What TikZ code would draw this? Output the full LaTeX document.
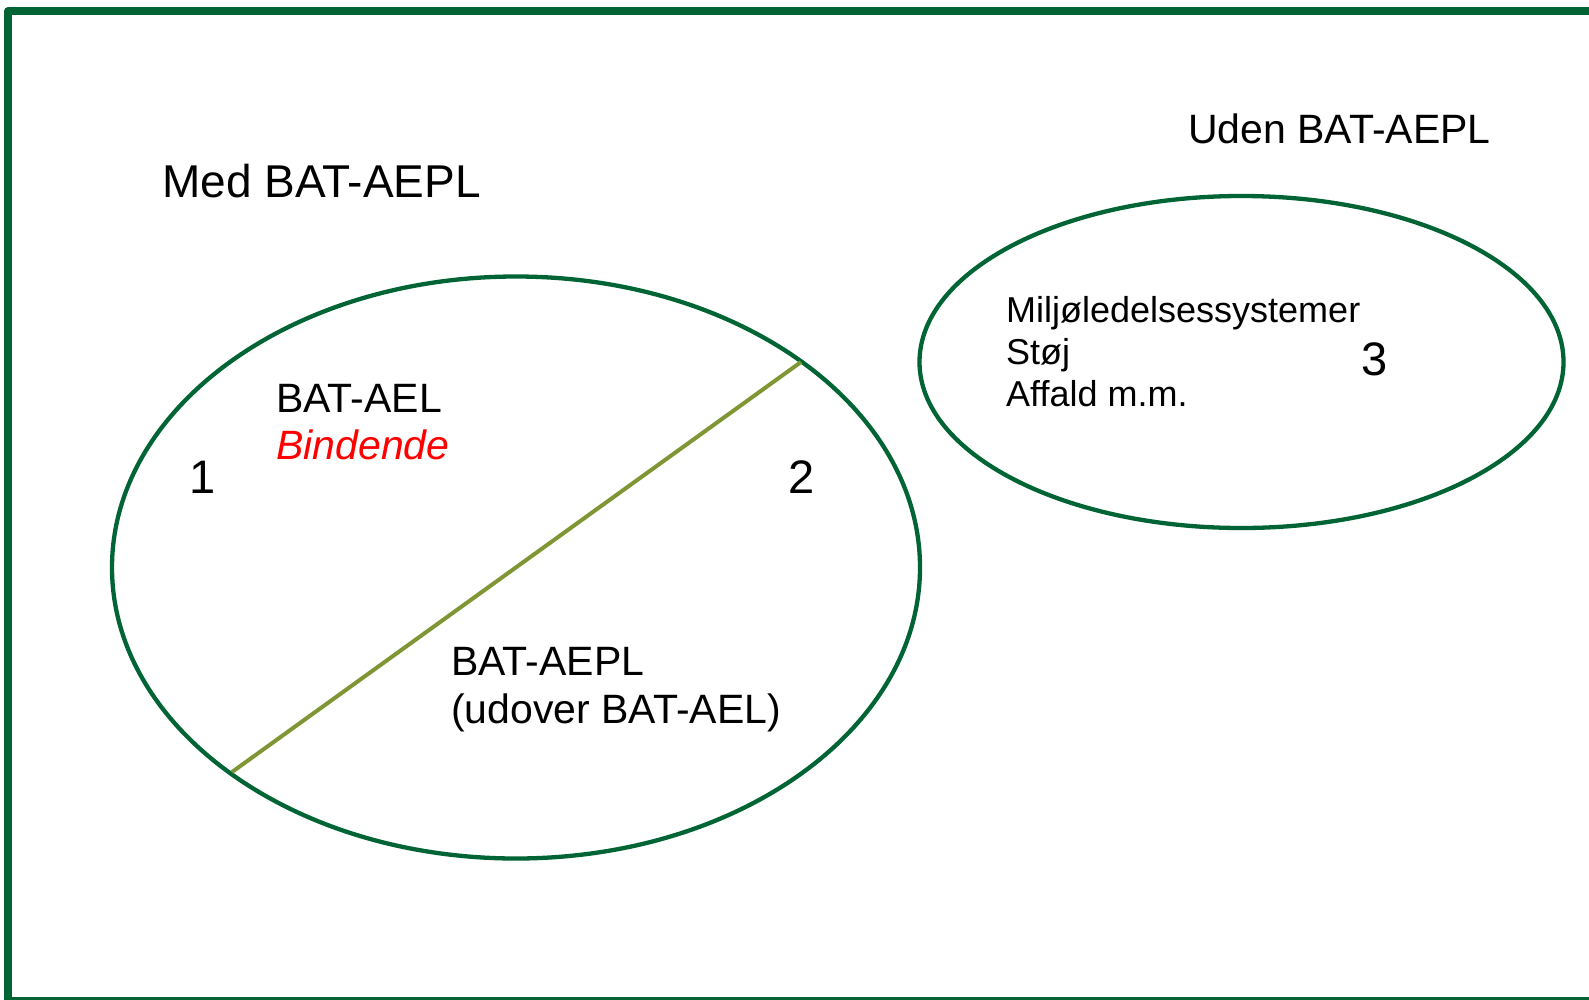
\documentclass[tikz,border=0pt]{standalone}
\usepackage{fontspec}
\setmainfont{Liberation Sans}
\usetikzlibrary{shapes.geometric}
\definecolor{framegreen}{RGB}{0,100,52}
\definecolor{ellgreen}{RGB}{0,100,52}
\definecolor{olive}{RGB}{128,150,52}
\definecolor{bindred}{RGB}{255,0,0}
\tikzset{
  frame/.style={draw=framegreen, line width=7.5pt, line join=round},
  setbox/.style={ellipse, draw=ellgreen, line width=4.3pt, inner sep=0pt},
  divider/.style={draw=olive, line width=4pt},
  lbl/.style={anchor=base west, inner sep=0pt, text=black},
  fs46/.style={font=\fontsize{46}{55}\selectfont},
  fs41/.style={font=\fontsize{41}{49}\selectfont},
  fsnum/.style={font=\fontsize{47}{56}\selectfont},
  fs36/.style={font=\fontsize{36}{42}\selectfont},
}
\begin{document}
\begin{tikzpicture}[x=1pt,y=-1pt]
\useasboundingbox (0,0) rectangle (1589,999);
\draw[frame] (8,11) rectangle (1605,1000.5);
\node[setbox, minimum width=808pt, minimum height=582pt] (e1) at (516,567.5) {};
\node[setbox, minimum width=644pt, minimum height=332pt] (e2) at (1241.5,362) {};
\coordinate (d1) at (232,772);
\coordinate (d2) at (801,362);
\draw[divider] (d1) -- (d2);
\node[lbl, fs46] (med) at (162,197) {Med BAT-AEPL};
\node[lbl, fs41] (uden) at (1188,143) {Uden BAT-AEPL};
\node[lbl, fs41] (ael) at (276,412) {BAT-AEL};
\node[lbl, fs41, text=bindred] (bind) at (276,459) {\itshape Bindende};
\node[lbl, fsnum] (n1) at (189,493) {1};
\node[lbl, fsnum] (n2) at (788,493) {2};
\node[lbl, fsnum] (n3) at (1361,375) {3};
\node[lbl, fs41] (aepl) at (451,675) {BAT-AEPL};
\node[lbl, fs41] (udover) at (451,723) {(udover BAT-AEL)};
\node[lbl, fs36] (m1) at (1006,322) {Miljøledelsessystemer};
\node[lbl, fs36] (m2) at (1006,364) {Støj};
\node[lbl, fs36] (m3) at (1006,406) {Affald m.m.};
\end{tikzpicture}
\end{document}
